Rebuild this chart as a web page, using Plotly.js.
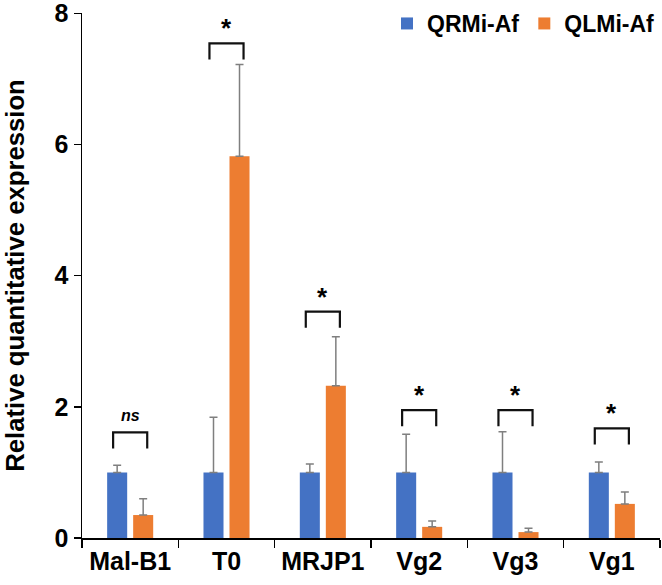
<!DOCTYPE html>
<html>
<head>
<meta charset="utf-8">
<script src="https://cdn.plot.ly/plotly-3.0.1.min.js"></script>
<style>
  html, body { margin: 0; padding: 0; background: #fff; }
  #chart { width: 662px; height: 585px; }
</style>
</head>
<body>
<div id="chart"></div>
<script>
// Genes on the x axis
const genes = ['Mal-B1', 'T0', 'MRJP1', 'Vg2', 'Vg3', 'Vg1'];

// Relative expression (mean) and upper error (SD) per group
const qrmiMean = [1.00, 1.00, 1.00, 1.00, 1.00, 1.00];
const qrmiErr  = [0.11, 0.84, 0.13, 0.58, 0.62, 0.16];
const qlmiMean = [0.35, 5.82, 2.32, 0.17, 0.09, 0.52];
const qlmiErr  = [0.25, 1.40, 0.75, 0.09, 0.06, 0.18];

// Significance labels and the height of each comparison bracket
const sigLabels  = ['ns', '*', '*', '*', '*', '*'];
const bracketTop = [1.61, 7.54, 3.45, 1.95, 1.95, 1.67];

const yTicks = [0, 2, 4, 6, 8];

const BLUE = '#4472C4';
const ORANGE = '#ED7D31';
const FONT = 'Liberation Sans, Arial, sans-serif';

const errStyle = (arr) => ({
  type: 'data', array: arr, arrayminus: arr.map(() => 0), symmetric: false,
  visible: true, color: '#7f7f7f', thickness: 1.5, width: 4
});

const traces = [
  {
    type: 'bar', name: 'QRMi-Af', x: genes, y: qrmiMean,
    marker: { color: BLUE }, error_y: errStyle(qrmiErr)
  },
  {
    type: 'bar', name: 'QLMi-Af', x: genes, y: qlmiMean,
    marker: { color: ORANGE }, error_y: errStyle(qlmiErr)
  }
];

// Comparison brackets: drawn on an overlay linear axis aligned with category indices
const halfW = 0.177;   // bracket half-width in category units
const leg = 0.245;     // bracket leg drop in y units
const bx = [], by = [];
bracketTop.forEach((top, i) => {
  bx.push(i - halfW, i - halfW, i + halfW, i + halfW, null);
  by.push(top - leg, top, top, top - leg, null);
});
traces.push({
  type: 'scatter', mode: 'lines', x: bx, y: by, xaxis: 'x2', yaxis: 'y',
  line: { color: '#111', width: 2.2 }, showlegend: false, hoverinfo: 'skip'
});

const annotations = sigLabels.map((lab, i) => {
  const isNs = lab === 'ns';
  return {
    xref: 'x2', yref: 'y', x: i, y: bracketTop[i],
    text: isNs ? '<b><i>ns</i></b>' : '<b>*</b>',
    showarrow: false, xanchor: 'center', yanchor: 'bottom',
    yshift: isNs ? 6 : -2,
    font: { family: FONT, size: isNs ? 16 : 26, color: '#000' }
  };
});

const layout = {
  width: 662, height: 585,
  margin: { l: 82, r: 2, t: 13, b: 47 },
  paper_bgcolor: '#fff', plot_bgcolor: '#fff',
  barmode: 'group', bargap: 0.46, bargroupgap: 0.23,
  showlegend: true,
  legend: {
    orientation: 'h', x: 1.0, xanchor: 'right', y: 0.98, yanchor: 'middle',
    font: { family: FONT, size: 23, color: '#000', weight: 'bold' },
    itemwidth: 30, bgcolor: 'rgba(0,0,0,0)', traceorder: 'normal'
  },
  xaxis: {
    type: 'category', categoryarray: genes, categoryorder: 'array',
    range: [-0.5, 5.5], fixedrange: true, tickangle: 0,
    showline: true, linecolor: '#000', linewidth: 1.5,
    ticks: 'outside', tickson: 'boundaries', ticklen: 8, tickwidth: 1.5, tickcolor: '#000',
    showgrid: false, zeroline: false, automargin: false, ticklabeloverflow: 'allow',
    tickfont: { family: FONT, size: 25, color: '#000', weight: 'bold' }
  },
  xaxis2: {
    overlaying: 'x', range: [-0.5, 5.5], visible: false, fixedrange: true
  },
  yaxis: {
    range: [0, 8.004], tickvals: yTicks, ticktext: yTicks.map(String),
    showline: true, linecolor: '#000', linewidth: 1.5,
    ticks: 'outside', ticklen: 7, tickwidth: 1.5, tickcolor: '#000',
    showgrid: false, zeroline: false, ticklabeloverflow: 'allow',
    tickfont: { family: FONT, size: 25, color: '#000', weight: 'bold' },
    title: {
      text: 'Relative quantitative expression', standoff: 22,
      font: { family: FONT, size: 25.7, color: '#000', weight: 'bold' }
    },
    automargin: false
  },
  annotations: annotations
};

Plotly.newPlot('chart', traces, layout, { displayModeBar: false, staticPlot: true });
</script>
</body>
</html>
